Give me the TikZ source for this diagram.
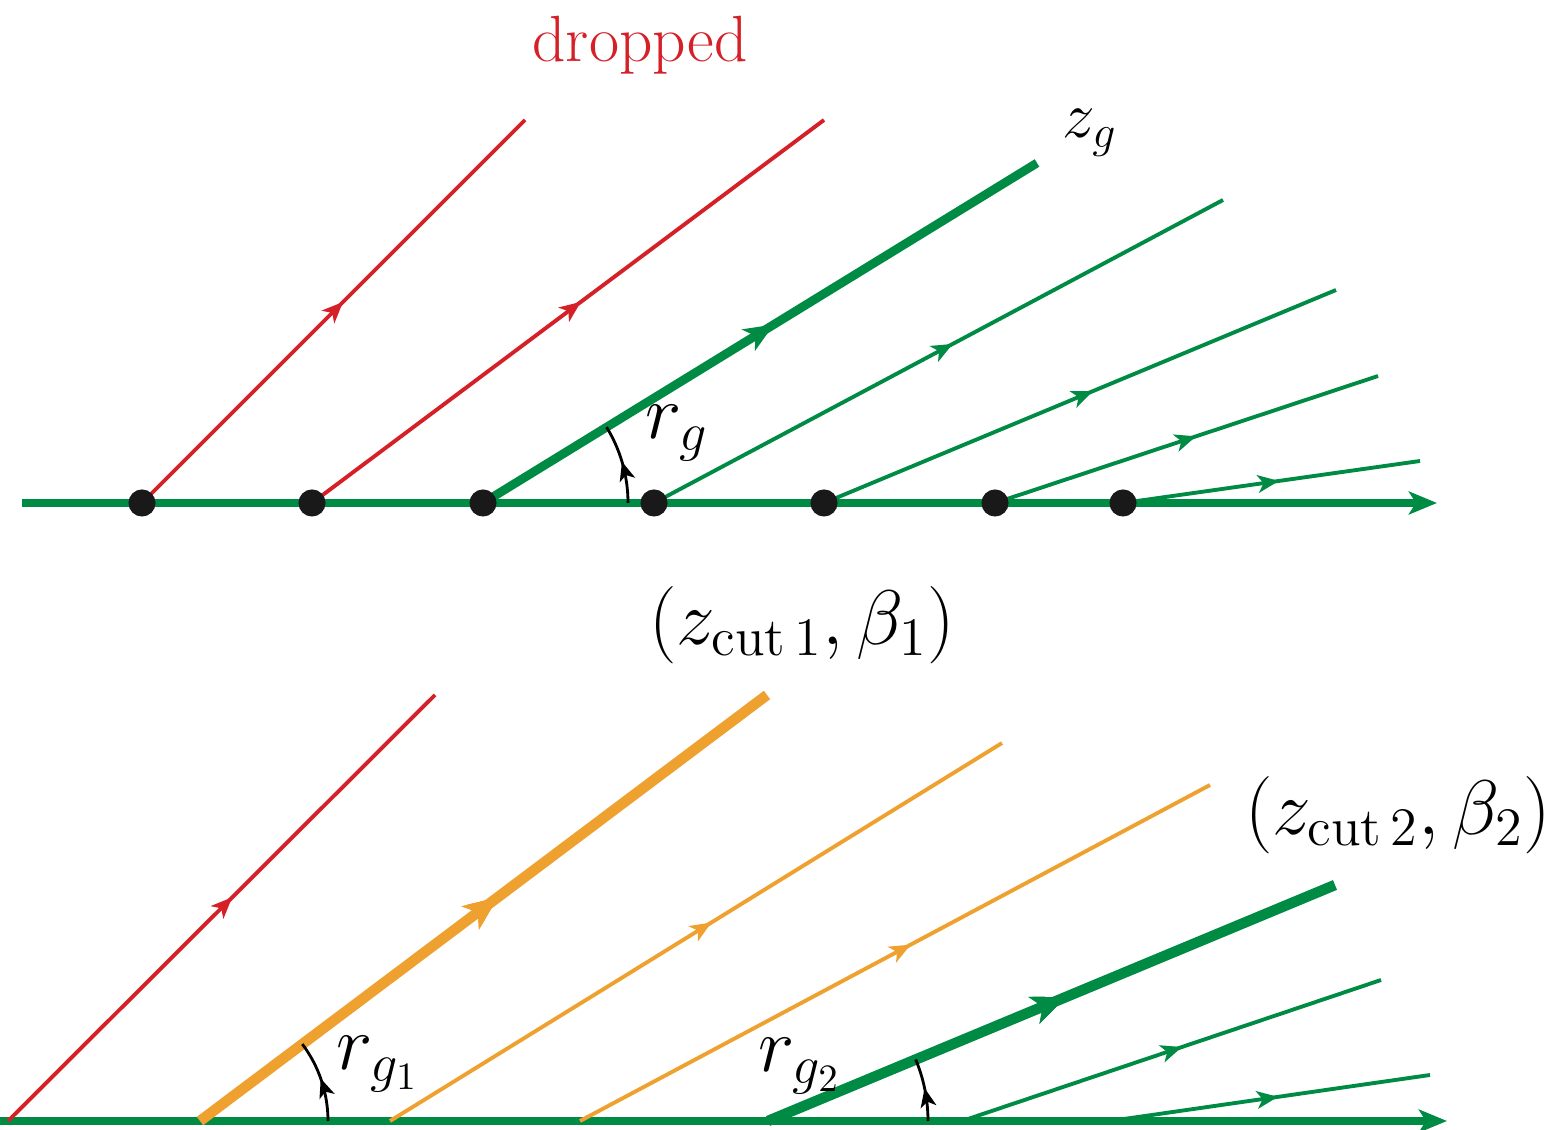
\documentclass[tikz,border=0pt]{standalone}
\usepackage{fix-cm}
\usetikzlibrary{arrows.meta,decorations.markings}

\definecolor{raygreen}{RGB}{0,139,69}
\definecolor{rayred}{RGB}{213,32,39}
\definecolor{rayorange}{RGB}{239,161,47}

\newcommand*{\topy}{627}
\newcommand*{\boty}{9}

\begin{document}
\begin{tikzpicture}
[
	x=0.01cm, y=0.01cm,
	closedpt/.style={circle,draw=black!90,fill=black!90,inner sep=0pt,minimum size=7.3pt},
	midarrow/.style={postaction={decorate},decoration={markings,mark=at position 0.525 with {\arrow{Stealth[length=6pt,width=5pt,inset=1.6pt,scale=#1]}}}},
	midarrow/.default=1,
	axisline/.style={raygreen,line width=2pt,-{Stealth[length=8pt,width=6.5pt,inset=2pt]}},
	thinray/.style={line width=1.1pt,midarrow},
	thickray/.style={line width=2.5pt,midarrow=1.4},
	anglearc/.style={black,line width=0.8pt,midarrow=0.9},
	bigfont/.style={font=\fontsize{22}{26}\selectfont},
	smallfont/.style={font=\fontsize{18.6}{22}\selectfont}
]

	\useasboundingbox (0,0) rectangle (1548,1130);

	% top panel: emissions along the baseline
	\coordinate (tstart) at (22,\topy);
	\coordinate (tend) at (1437,\topy);
	\coordinate (p1) at (142,\topy);
	\coordinate (p2) at (312,\topy);
	\coordinate (p3) at (483,\topy);
	\coordinate (p4) at (654,\topy);
	\coordinate (p5) at (824,\topy);
	\coordinate (p6) at (995,\topy);
	\coordinate (p7) at (1123,\topy);

	\coordinate (e1) at (525,1010);
	\coordinate (e2) at (824,1010);
	\coordinate (e3) at (1037,967);
	\coordinate (e4) at (1223,930);
	\coordinate (e5) at (1336,840);
	\coordinate (e6) at (1378,754);
	\coordinate (e7) at (1420,669);

	\draw[axisline] (tstart) -- (tend);

	\draw[thinray,rayred] (p1) -- (e1);
	\draw[thinray,rayred] (p2) -- (e2);
	\draw[thickray,raygreen] (p3) -- (e3);
	\draw[thinray,raygreen] (p4) -- (e4);
	\draw[thinray,raygreen] (p5) -- (e5);
	\draw[thinray,raygreen] (p6) -- (e6);
	\draw[thinray,raygreen] (p7) -- (e7);

	\foreach \i in {1,...,7}
		\node[closedpt] (dot\i) at (p\i) {};

	% angle between p3 and the baseline (atan 340/554)
	\draw[anglearc] (p3) ++(145,0) arc[start angle=0,end angle=31.53,radius=145];

	\node[smallfont,text=rayred] (dropped) at (640,1085) {dropped};
	\node[smallfont] (zg) at (1090,997) {$z_g$};
	\node[bigfont] (rg) at (677,697) {$r_g$};
	\node[bigfont] (cut1) at (802,505) {$(z_{\mathrm{cut}\,1},\beta_1)$};

	% bottom panel: two cuts
	\coordinate (bstart) at (0,\boty);
	\coordinate (bend) at (1447,\boty);
	\coordinate (q1) at (8,\boty);
	\coordinate (q2) at (200,\boty);
	\coordinate (q3) at (390,\boty);
	\coordinate (q4) at (580,\boty);
	\coordinate (q5) at (768,\boty);
	\coordinate (q6) at (962,\boty);
	\coordinate (q7) at (1110,\boty);

	\coordinate (f1) at (435,435);
	\coordinate (f2) at (767,435);
	\coordinate (f3) at (1002,387);
	\coordinate (f4) at (1210,345);
	\coordinate (f5) at (1335,245);
	\coordinate (f6) at (1381,150);
	\coordinate (f7) at (1430,55);

	\draw[axisline] (bstart) -- (bend);

	\draw[thinray,rayred] (q1) -- (f1);
	\draw[thickray,rayorange,line width=3pt,midarrow=1.6] (q2) -- (f2);
	\draw[thinray,rayorange] (q3) -- (f3);
	\draw[thinray,rayorange] (q4) -- (f4);
	\draw[thickray,raygreen,line width=3pt,midarrow=1.6] (q5) -- (f5);
	\draw[thinray,raygreen] (q6) -- (f6);
	\draw[thinray,raygreen] (q7) -- (f7);

	% angles at the two cuts
	\draw[anglearc] (q2) ++(128,0) arc[start angle=0,end angle=36.92,radius=128];
	\draw[anglearc] (q5) ++(160,0) arc[start angle=0,end angle=22.6,radius=160];

	\node[bigfont] (rg1) at (378,66) {$r_{g_1}$};
	\node[bigfont] (rg2) at (800,64) {$r_{g_2}$};
	\node[bigfont] (cut2) at (1398,315) {$(z_{\mathrm{cut}\,2},\beta_2)$};

\end{tikzpicture}
\end{document}
